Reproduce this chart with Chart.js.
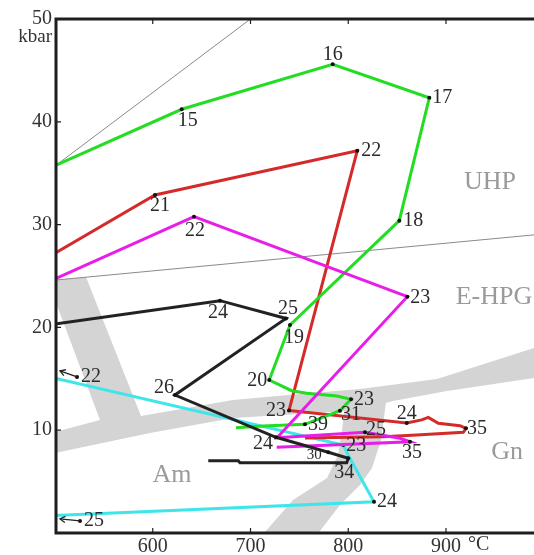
<!DOCTYPE html>
<html><head><meta charset="utf-8">
<script src="https://cdn.jsdelivr.net/npm/chart.js@4.4.1/dist/chart.umd.min.js"></script>
<style>html,body{margin:0;padding:0;background:#fff}#wrap{width:534px;height:555px}</style>
</head><body><div id="wrap"><canvas id="c" width="534" height="555"></canvas></div>
<script>
// ---- data (T in °C, P in kbar) ----
const xTicks = [600, 700, 800, 900];
const yTicks = [10, 20, 30, 40, 50];

const greenT = [500, 629.6, 784.1, 882.9, 852.2, 740.4, 719.2, 742.1, 757.5, 788.2, 802.8, 791.5, 755.7, 713.1, 685.1];
const greenP = [35.73, 41.22, 45.59, 42.34, 30.38, 20.23, 14.88, 13.84, 13.59, 13.33, 13.0, 11.9, 10.57, 10.41, 10.24];
const greenLabels = ['', '15', '16', '17', '18', '19', '20', '', '', '', '23', '31', '39', '', ''];

const redT = [500, 602.3, 809.2, 739.4, 859.8, 875.1, 881.9, 892.1, 914.3, 920.4, 917.7, 870.0, 835.8, 801.8, 755.7];
const redP = [27.21, 32.88, 37.19, 11.92, 10.7, 11.0, 11.25, 10.67, 10.44, 10.18, 9.8, 9.53, 9.37, 9.31, 9.24];
const redLabels = ['', '21', '22', '23', '24', '', '', '', '', '35', '', '', '', '', ''];

const magT = [500, 642.2, 860.4, 727.1, 817.1, 852.9, 863.1, 726.8];
const magP = [24.71, 30.77, 22.99, 9.27, 9.8, 9.21, 8.88, 8.34];
const magLabels = ['', '22', '23', '', '25', '', '35', ''];

const blackT = [500, 668.8, 736.3, 622.7, 726.1, 779.6, 800.0, 798.4, 689.2, 687.5, 656.8];
const blackP = [20.33, 22.6, 20.87, 13.42, 9.31, 7.85, 7.27, 6.84, 6.84, 7.03, 7.03];
const blackLabels = ['', '24', '25', '26', '24', '30', '34', '', '', '', ''];

const cyanT = [500, 794.9, 801.8, 826.3, 500];
const cyanP = [15.05, 8.56, 7.25, 3.04, 1.70];
const cyanLabels = ['', '23', '', '24', ''];

// points lying off the diagram to the left (arrow markers)
const offT = [522.5, 525.6];
const offP = [15.18, 1.17];
const offLabels = ['22', '25'];

// reference lines
const ref1T = [500, 700], ref1P = [35.7, 50];
const ref2T = [500, 990], ref2P = [24.6, 29.0];

// grey facies bands (outlines)
const bandABT = [500, 531.7, 588, 682.1, 750.6, 812, 890.8, 990, 990, 901, 845.7, 812, 750.6, 682.1, 597.2, 500, 500, 546, 500, 500];
const bandABP = [24.61, 24.9, 11.38, 12.94, 13.52, 14.01, 14.98, 18.0, 15.08, 13.81, 12.84, 11.96, 11.58, 11.19, 9.73, 7.78, 9.82, 10.99, 22.67, 24.61];
const bandCT = [707.6, 743.5, 778.3, 789.5, 793.6, 796.7, 838.6, 833.5, 824.3, 812.0, 791.5, 763.9, 707.6];
const bandCP = [-0.68, 3.21, 5.35, 7.59, 10.02, 12.45, 12.74, 9.05, 6.32, 4.67, 2.72, -0.68, -0.68];

// field names
const fieldNames = ['UHP', 'E-HPG', 'Am', 'Gn'];
const fieldT = [945, 949, 619.7, 962.4];
const fieldP = [34.14, 22.96, 5.64, 7.88];

// ---- label placement (pixel offsets from point) ----
const greenOff = [null, [6, 11], [0, -10], [13, 0], [14, 0], [4, 13], [-12, 1], null, null, null, [13, 0], [11, 4], [13, 0], null, null];
const redOff = [null, [5, 11], [14, 0], [-13, 0], [0, -9], null, null, null, null, [11, 0], null, null, null, null, null];
const magOff = [null, [1, 14], [13, 1], null, [11, -3], null, [2, 11], null];
const blackOff = [null, [-2, 12], [2, -10], [-11, -7], [-13, 6], [-14, 3], [-4, 14], null, null, null, null];
const cyanOff = [null, [13, 1], null, [13, 0], null];

const pts = (T, P) => T.map((t, i) => ({x: t, y: P[i]}));
const SERIF = "'Liberation Serif', 'DejaVu Serif', serif";

function series(T, P, labels, color, off, order) {
  return {
    data: pts(T, P), labels: labels, offs: off,
    borderColor: color, borderWidth: 3, fill: false, tension: 0,
    pointRadius: c => (labels[c.dataIndex] ? 2 : 0),
    pointBackgroundColor: '#111', pointBorderWidth: 0, pointHoverRadius: 0,
    order: order, isSeries: true
  };
}
function band(T, P) {
  return {data: pts(T, P), borderWidth: 0, backgroundColor: '#d4d4d4', borderColor: 'rgba(0,0,0,0)',
    fill: 'shape', pointRadius: 0, tension: 0, order: 20};
}
function refLine(T, P) {
  return {data: pts(T, P), borderWidth: 1, borderColor: '#8a8a8a', fill: false, pointRadius: 0, order: 15};
}

const decor = {
  id: 'decor',
  afterDatasetsDraw(chart) {
    const ctx = chart.ctx, xs = chart.scales.x, ys = chart.scales.y, a = chart.chartArea;
    ctx.save();
    // field names
    ctx.font = '26px ' + SERIF; ctx.fillStyle = '#9a9a9a';
    ctx.textAlign = 'center'; ctx.textBaseline = 'middle';
    fieldNames.forEach((n, i) => ctx.fillText(n, xs.getPixelForValue(fieldT[i]), ys.getPixelForValue(fieldP[i])));
    // point labels
    ctx.fillStyle = '#2a2a2a';
    chart.data.datasets.forEach(ds => {
      if (!ds.isSeries) return;
      ds.data.forEach((p, i) => {
        const t = ds.labels[i]; if (!t) return;
        const o = ds.offs[i];
        ctx.font = (t === '30' ? '15px ' : '20px ') + SERIF;
        ctx.fillText(t, xs.getPixelForValue(p.x) + o[0], ys.getPixelForValue(p.y) + o[1]);
      });
    });
    // off-diagram markers with arrows
    const arrowDir = [[-17, -6], [-20, -2]];
    offT.forEach((t, i) => {
      const px = xs.getPixelForValue(t), py = ys.getPixelForValue(offP[i]);
      ctx.fillStyle = '#111';
      ctx.beginPath(); ctx.arc(px, py, 2, 0, Math.PI * 2); ctx.fill();
      const ex = px + arrowDir[i][0], ey = py + arrowDir[i][1];
      ctx.strokeStyle = '#222'; ctx.lineWidth = 1.3;
      ctx.beginPath(); ctx.moveTo(px, py); ctx.lineTo(ex, ey); ctx.stroke();
      const ang = Math.atan2(arrowDir[i][1], arrowDir[i][0]);
      ctx.beginPath();
      ctx.moveTo(ex + 6 * Math.cos(ang + 2.6), ey + 6 * Math.sin(ang + 2.6));
      ctx.lineTo(ex, ey);
      ctx.lineTo(ex + 6 * Math.cos(ang - 2.6), ey + 6 * Math.sin(ang - 2.6));
      ctx.stroke();
      ctx.fillStyle = '#2a2a2a'; ctx.font = '20px ' + SERIF;
      ctx.fillText(offLabels[i], px + 14, py);
    });
    // frame
    ctx.strokeStyle = '#1e1e1e'; ctx.lineWidth = 3;
    ctx.beginPath();
    ctx.moveTo(a.right + 2, a.top); ctx.lineTo(a.left + 1, a.top); ctx.lineTo(a.left + 1, a.bottom); ctx.lineTo(a.right + 2, a.bottom);
    ctx.stroke();
    ctx.lineWidth = 1.2;
    ctx.beginPath();
    xTicks.forEach(v => {
      const px = xs.getPixelForValue(v);
      ctx.moveTo(px, a.top); ctx.lineTo(px, a.top + 5);
      ctx.moveTo(px, a.bottom); ctx.lineTo(px, a.bottom - 5);
    });
    yTicks.forEach(v => {
      const py = ys.getPixelForValue(v);
      ctx.moveTo(a.left, py); ctx.lineTo(a.left + 6, py);
    });
    ctx.stroke();
    // units
    ctx.fillStyle = '#333'; ctx.font = '19px ' + SERIF;
    ctx.textAlign = 'right'; ctx.textBaseline = 'middle';
    ctx.fillText('kbar', a.left - 3, a.top + 18);
    ctx.textAlign = 'left'; ctx.font = '20px ' + SERIF;
    ctx.fillText('°C', xs.getPixelForValue(900) + 22, a.bottom + 12);
    ctx.restore();
  }
};

new Chart(document.getElementById('c'), {
  type: 'line',
  data: {
    datasets: [
      series(greenT, greenP, greenLabels, '#22dd22', greenOff, 3),
      series(redT, redP, redLabels, '#d42a2a', redOff, 4),
      series(magT, magP, magLabels, '#e81ee8', magOff, 2),
      series(blackT, blackP, blackLabels, '#222222', blackOff, 1),
      series(cyanT, cyanP, cyanLabels, '#3ee6ea', cyanOff, 5),
      refLine(ref1T, ref1P), refLine(ref2T, ref2P),
      band(bandABT, bandABP), band(bandCT, bandCP)
    ]
  },
  options: {
    responsive: false, animation: false, devicePixelRatio: 1,
    layout: {padding: {top: 19, right: 0, left: 0, bottom: 0}},
    plugins: {legend: {display: false}, tooltip: {enabled: false}},
    scales: {
      x: {
        type: 'linear', min: 500, max: 990,
        grid: {display: false, drawTicks: false}, border: {display: false},
        afterBuildTicks: s => { s.ticks = xTicks.map(v => ({value: v})); },
        afterFit: s => { s.height = 22; },
        ticks: {color: '#333', font: {family: SERIF, size: 20}, padding: 2, maxRotation: 0}
      },
      y: {
        type: 'linear', min: 0, max: 50,
        grid: {display: false, drawTicks: false}, border: {display: false},
        afterBuildTicks: s => { s.ticks = yTicks.map(v => ({value: v})); },
        afterFit: s => { s.width = 55; },
        ticks: {color: '#333', font: {family: SERIF, size: 20}, padding: 3}
      }
    }
  },
  plugins: [decor]
});
</script></body></html>
